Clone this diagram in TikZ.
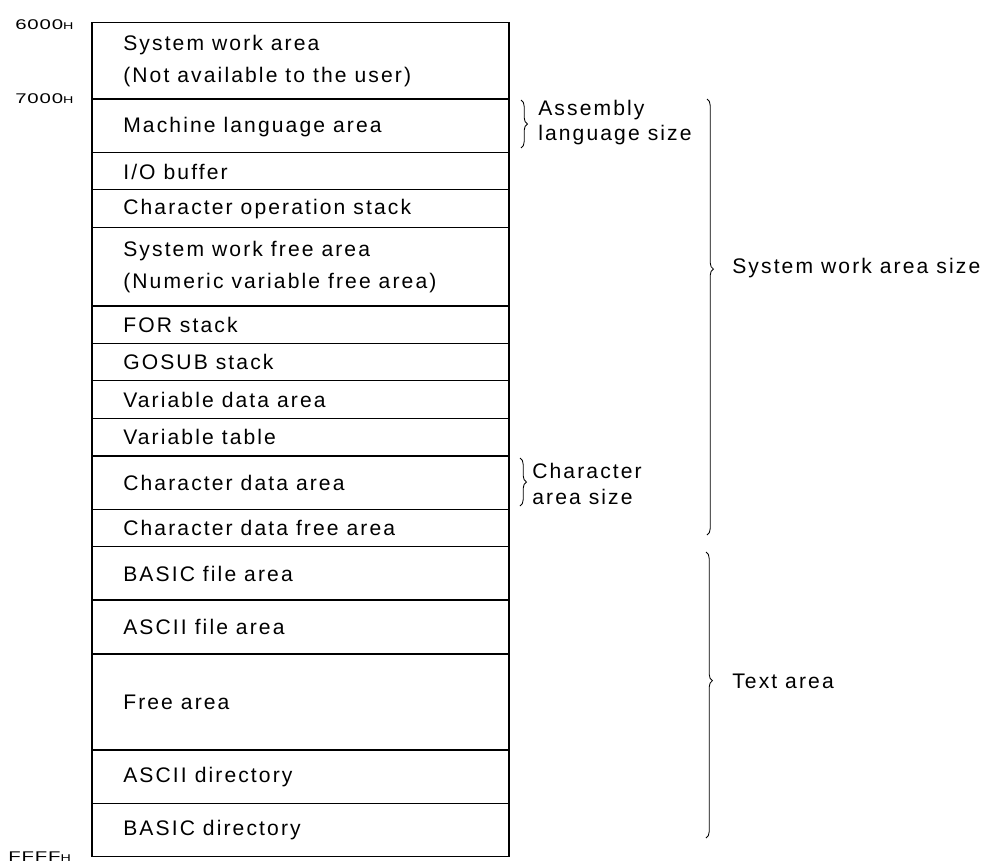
\documentclass[tikz,border=0pt]{standalone}
\usepackage{fontspec}
\setmainfont{Liberation Sans}[LetterSpace=10]
\newfontfamily\addrfont{Liberation Sans}[FakeStretch=1.45,LetterSpace=6]
\usetikzlibrary{decorations.pathreplacing}
\tikzset{
    box/.style = {line width=1.1pt, draw=black},
    rowtext/.style = {anchor=west, align=left, inner sep=0, font=\fontsize{15}{19}\selectfont},
    sizetext/.style = {anchor=west, align=left, inner sep=0, font=\fontsize{15}{18}\selectfont},
    addr/.style = {anchor=west, inner sep=0, font=\addrfont\fontsize{10}{12}\selectfont},
    brace/.style = {decorate, decoration={brace, amplitude=1.6mm}, line width=0.6pt},
}
\newcommand{\hx}{{\fontsize{7}{8}\selectfont H}}

\begin{document}
\begin{tikzpicture}[x=0.25mm, y=-0.25mm]
\useasboundingbox (0,0) rectangle (988,866);

% memory map
\draw[box] (92,22.7) rectangle (509,856.7);
\draw[box] (92,99) -- (509,99);
\draw[box] (92,152.7) -- (509,152.7);
\draw[box] (92,189.3) -- (509,189.3);
\draw[box] (92,227.3) -- (509,227.3);
\draw[box] (92,306) -- (509,306);
\draw[box] (92,343.3) -- (509,343.3);
\draw[box] (92,380.7) -- (509,380.7);
\draw[box] (92,418.3) -- (509,418.3);
\draw[box] (92,456) -- (509,456);
\draw[box] (92,509.3) -- (509,509.3);
\draw[box] (92,546.7) -- (509,546.7);
\draw[box] (92,600) -- (509,600);
\draw[box] (92,654) -- (509,654);
\draw[box] (92,750) -- (509,750);
\draw[box] (92,803.5) -- (509,803.5);

\node[rowtext] (swa)  at (123,61)  {System work area\\[4pt](Not available to the user)};
\node[rowtext] (mla)  at (123,127) {Machine language area};
\node[rowtext] (iob)  at (123,172) {I/O buffer};
\node[rowtext] (cos)  at (123,209) {Character operation stack};
\node[rowtext] (swf)  at (123,267) {System work free area\\[4pt](Numeric variable free area)};
\node[rowtext] (fors) at (123,325) {FOR stack};
\node[rowtext] (gos)  at (123,362) {GOSUB stack};
\node[rowtext] (vda)  at (123,399.5) {Variable data area};
\node[rowtext] (vtab) at (123,437) {Variable table};
\node[rowtext] (cda)  at (123,482.5) {Character data area};
\node[rowtext] (cdf)  at (123,528) {Character data free area};
\node[rowtext] (bfa)  at (123,573.5) {BASIC file area};
\node[rowtext] (afa)  at (123,627) {ASCII file area};
\node[rowtext] (free) at (123,702) {Free area};
\node[rowtext] (adir) at (123,777) {ASCII directory};
\node[rowtext] (bdir) at (123,830) {BASIC directory};

% addresses
\node[addr] (a6000) at (15,25)  {6000\hx};
\node[addr] (a7000) at (15,99)  {7000\hx};
\node[addr] (affff) at (8,857)  {FFFF\hx};

% sizes
\draw[brace] (521,100) -- (521,148);
\node[sizetext] (asmsize) at (538,122.5) {Assembly\\language size};
\draw[brace] (520,458) -- (520,506);
\node[sizetext] (chrsize) at (532,484) {Character\\area size};
\draw[brace, decoration={aspect=0.39}] (707,99) -- (707,535);
\node[sizetext] (syssize) at (732,268) {System work area size};
\draw[brace, decoration={aspect=0.45}] (706,552) -- (706,838);
\node[sizetext] (txtarea) at (732,681) {Text area};

\end{tikzpicture}
\end{document}
